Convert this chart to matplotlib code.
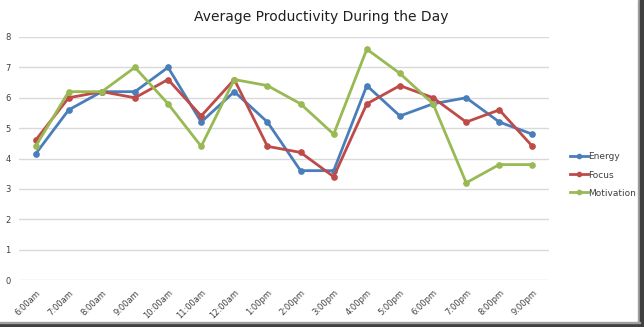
import matplotlib.pyplot as plt
from matplotlib.patches import Rectangle

hours = ["6:00am", "7:00am", "8:00am", "9:00am", "10:00am", "11:00am", "12:00am",
         "1:00pm", "2:00pm", "3:00pm", "4:00pm", "5:00pm", "6:00pm", "7:00pm",
         "8:00pm", "9:00pm"]
energy = [4.15, 5.6, 6.2, 6.2, 7.0, 5.2, 6.2, 5.2, 3.6, 3.6, 6.4, 5.4, 5.8, 6.0, 5.2, 4.8]
focus = [4.6, 6.0, 6.2, 6.0, 6.6, 5.4, 6.6, 4.4, 4.2, 3.4, 5.8, 6.4, 6.0, 5.2, 5.6, 4.4]
motivation = [4.4, 6.2, 6.2, 7.0, 5.8, 4.4, 6.6, 6.4, 5.8, 4.8, 7.6, 6.8, 5.8, 3.2, 3.8, 3.8]

series = [("Energy", energy, "#4a7ebb"),
          ("Focus", focus, "#be4b48"),
          ("Motivation", motivation, "#98b954")]

W, H = 644, 327
fig = plt.figure(figsize=(W / 100, H / 100), dpi=100)
fig.patch.set_facecolor("white")

# plot area in pixel terms
left, right, top, bottom = 19, 549, 37, 280
ax = fig.add_axes([left / W, 1 - bottom / H, (right - left) / W, (bottom - top) / H])

x = list(range(len(hours)))
for name, vals, col in series:
    ax.plot(x, vals, color=col, lw=2.0, marker="o", ms=3.8, label=name,
            solid_joinstyle="round")

ax.set_xlim(-0.5, len(hours) - 0.5)
ax.set_ylim(0, 8)
ax.set_yticks(range(0, 9))
ax.grid(axis="y", color="#d9d9d9", lw=1)
ax.set_axisbelow(True)
for s in ax.spines.values():
    s.set_visible(False)
ax.tick_params(length=0, labelsize=6, colors="#404040")
ax.tick_params(axis="y", pad=6)
ax.set_xticks(x)
ax.set_xticklabels(hours, rotation=45, ha="right", rotation_mode="anchor")
ax.tick_params(axis="x", pad=6)

fig.text(321 / W, 1 - 17 / H, "Average Productivity During the Day",
         ha="center", va="center", fontsize=10, color="#202020")

fig.legend(loc="center left", bbox_to_anchor=(565 / W, 1 - 175 / H), frameon=False,
           fontsize=6.5, handlelength=2.0, handletextpad=0.1, labelspacing=1.0,
           borderpad=0, labelcolor="#404040", markerscale=0.8)

# frame shadow on right and bottom
fig.patches.append(Rectangle((638 / W, 0), 1.5 / W, 1, transform=fig.transFigure,
                             color="#a0a0a0", zorder=5))
fig.patches.append(Rectangle((640 / W, 0), 4 / W, 1, transform=fig.transFigure,
                             color="#404040", zorder=5))
fig.patches.append(Rectangle((0, 0), 1, 4 / H, transform=fig.transFigure,
                             color="#404040", zorder=5))
fig.patches.append(Rectangle((0, 4 / H), 640 / W, 1.5 / H, transform=fig.transFigure,
                             color="#a0a0a0", zorder=5))

fig.savefig("out.png", dpi=100)
